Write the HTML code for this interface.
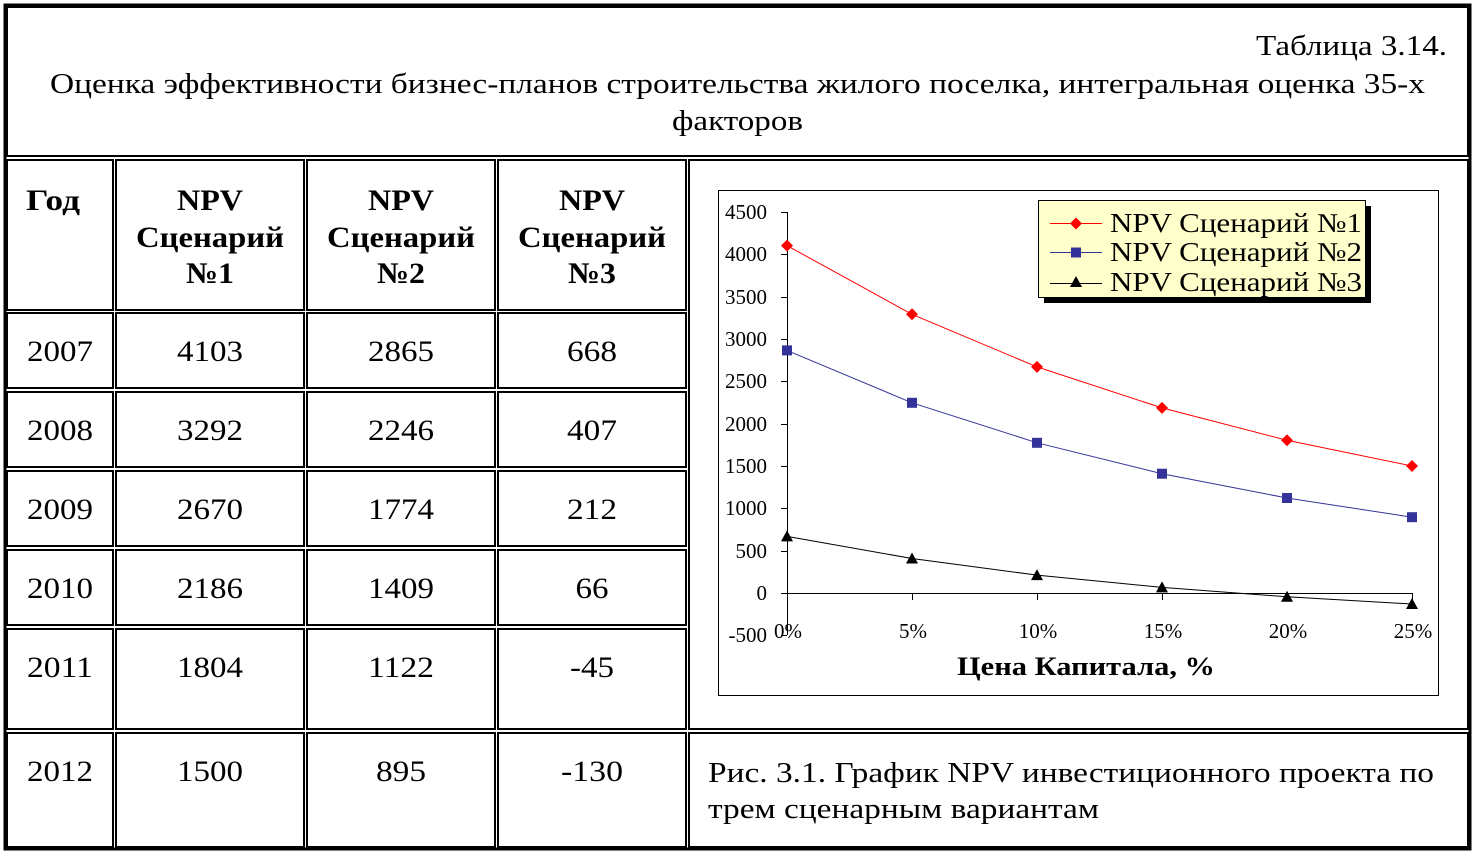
<!DOCTYPE html>
<html><head><meta charset="utf-8"><style>
html,body{margin:0;padding:0;background:#fff;}
svg{display:block;font-family:"Liberation Serif",serif;}
</style></head><body>
<svg width="1474" height="854" viewBox="0 0 1474 854" xmlns="http://www.w3.org/2000/svg">
<rect x="0" y="0" width="1474" height="854" fill="#fff"/>
<g fill="none" stroke="#000" stroke-width="2">
<rect x="7" y="7" width="1461" height="149"/>
<rect x="7" y="160" width="106" height="150"/>
<rect x="116" y="160" width="188" height="150"/>
<rect x="307" y="160" width="188" height="150"/>
<rect x="498" y="160" width="188" height="150"/>
<rect x="689" y="160" width="779" height="569"/>
<g>
<rect x="7" y="313" width="106" height="75"/><rect x="116" y="313" width="188" height="75"/><rect x="307" y="313" width="188" height="75"/><rect x="498" y="313" width="188" height="75"/>
<rect x="7" y="392" width="106" height="75"/><rect x="116" y="392" width="188" height="75"/><rect x="307" y="392" width="188" height="75"/><rect x="498" y="392" width="188" height="75"/>
<rect x="7" y="471" width="106" height="75"/><rect x="116" y="471" width="188" height="75"/><rect x="307" y="471" width="188" height="75"/><rect x="498" y="471" width="188" height="75"/>
<rect x="7" y="550" width="106" height="75"/><rect x="116" y="550" width="188" height="75"/><rect x="307" y="550" width="188" height="75"/><rect x="498" y="550" width="188" height="75"/>
<rect x="7" y="629" width="106" height="100"/><rect x="116" y="629" width="188" height="100"/><rect x="307" y="629" width="188" height="100"/><rect x="498" y="629" width="188" height="100"/>
<rect x="7" y="733" width="106" height="114"/><rect x="116" y="733" width="188" height="114"/><rect x="307" y="733" width="188" height="114"/><rect x="498" y="733" width="188" height="114"/>
<rect x="689" y="733" width="779" height="114"/>
</g>
</g>
<rect x="5" y="5" width="1465" height="844" fill="none" stroke="#000" stroke-width="3"/>
<g font-size="29" fill="#000">
<text x="1256" y="55" textLength="191" lengthAdjust="spacingAndGlyphs">Таблица 3.14.</text>
<text x="50" y="93" textLength="1375" lengthAdjust="spacingAndGlyphs">Оценка эффективности бизнес-планов строительства жилого поселка, интегральная оценка 35-х</text>
<text x="672" y="130" textLength="131" lengthAdjust="spacingAndGlyphs">факторов</text>
</g>
<g font-size="30" font-weight="bold">
<text x="26" y="210" textLength="54" lengthAdjust="spacingAndGlyphs">Год</text>
<text x="177" y="210" textLength="66" lengthAdjust="spacingAndGlyphs">NPV</text><text x="136" y="247" textLength="148" lengthAdjust="spacingAndGlyphs">Сценарий</text><text x="186" y="283" textLength="48" lengthAdjust="spacingAndGlyphs">№1</text>
<text x="368" y="210" textLength="66" lengthAdjust="spacingAndGlyphs">NPV</text><text x="327" y="247" textLength="148" lengthAdjust="spacingAndGlyphs">Сценарий</text><text x="377" y="283" textLength="48" lengthAdjust="spacingAndGlyphs">№2</text>
<text x="559" y="210" textLength="66" lengthAdjust="spacingAndGlyphs">NPV</text><text x="518" y="247" textLength="148" lengthAdjust="spacingAndGlyphs">Сценарий</text><text x="568" y="283" textLength="48" lengthAdjust="spacingAndGlyphs">№3</text>
</g>
<g font-size="30" text-anchor="middle">
<text x="60" y="361" textLength="66" lengthAdjust="spacingAndGlyphs">2007</text><text x="210" y="361" textLength="66" lengthAdjust="spacingAndGlyphs">4103</text><text x="401" y="361" textLength="66" lengthAdjust="spacingAndGlyphs">2865</text><text x="592" y="361" textLength="50" lengthAdjust="spacingAndGlyphs">668</text>
<text x="60" y="440" textLength="66" lengthAdjust="spacingAndGlyphs">2008</text><text x="210" y="440" textLength="66" lengthAdjust="spacingAndGlyphs">3292</text><text x="401" y="440" textLength="66" lengthAdjust="spacingAndGlyphs">2246</text><text x="592" y="440" textLength="50" lengthAdjust="spacingAndGlyphs">407</text>
<text x="60" y="519" textLength="66" lengthAdjust="spacingAndGlyphs">2009</text><text x="210" y="519" textLength="66" lengthAdjust="spacingAndGlyphs">2670</text><text x="401" y="519" textLength="66" lengthAdjust="spacingAndGlyphs">1774</text><text x="592" y="519" textLength="50" lengthAdjust="spacingAndGlyphs">212</text>
<text x="60" y="598" textLength="66" lengthAdjust="spacingAndGlyphs">2010</text><text x="210" y="598" textLength="66" lengthAdjust="spacingAndGlyphs">2186</text><text x="401" y="598" textLength="66" lengthAdjust="spacingAndGlyphs">1409</text><text x="592" y="598" textLength="33" lengthAdjust="spacingAndGlyphs">66</text>
<text x="60" y="677" textLength="66" lengthAdjust="spacingAndGlyphs">2011</text><text x="210" y="677" textLength="66" lengthAdjust="spacingAndGlyphs">1804</text><text x="401" y="677" textLength="66" lengthAdjust="spacingAndGlyphs">1122</text><text x="592" y="677" textLength="44" lengthAdjust="spacingAndGlyphs">-45</text>
<text x="60" y="781" textLength="66" lengthAdjust="spacingAndGlyphs">2012</text><text x="210" y="781" textLength="66" lengthAdjust="spacingAndGlyphs">1500</text><text x="401" y="781" textLength="50" lengthAdjust="spacingAndGlyphs">895</text><text x="592" y="781" textLength="62" lengthAdjust="spacingAndGlyphs">-130</text>
</g>
<g font-size="28">
<text x="708" y="782" textLength="726" lengthAdjust="spacingAndGlyphs">Рис. 3.1. График NPV инвестиционного проекта по</text>
<text x="708" y="818" textLength="391" lengthAdjust="spacingAndGlyphs">трем сценарным вариантам</text>
</g>
<rect x="718.5" y="190.5" width="720" height="505" fill="none" stroke="#000" stroke-width="1"/>
<g stroke="#000" stroke-width="1">
<line x1="787.5" y1="212" x2="787.5" y2="635"/>
<line x1="781" y1="212.5" x2="787" y2="212.5"/><line x1="781" y1="254.5" x2="787" y2="254.5"/><line x1="781" y1="297.5" x2="787" y2="297.5"/><line x1="781" y1="339.5" x2="787" y2="339.5"/><line x1="781" y1="381.5" x2="787" y2="381.5"/><line x1="781" y1="424.5" x2="787" y2="424.5"/><line x1="781" y1="466.5" x2="787" y2="466.5"/><line x1="781" y1="508.5" x2="787" y2="508.5"/><line x1="781" y1="551.5" x2="787" y2="551.5"/><line x1="781" y1="593.5" x2="787" y2="593.5"/><line x1="781" y1="635.5" x2="787" y2="635.5"/>
<line x1="787" y1="593.5" x2="1412" y2="593.5"/>
<line x1="912.5" y1="593" x2="912.5" y2="600"/><line x1="1037.5" y1="593" x2="1037.5" y2="600"/><line x1="1162.5" y1="593" x2="1162.5" y2="600"/><line x1="1287.5" y1="593" x2="1287.5" y2="600"/><line x1="1412.5" y1="593" x2="1412.5" y2="600"/>
</g>
<g font-size="21" text-anchor="end">
<text x="767" y="219">4500</text><text x="767" y="261">4000</text><text x="767" y="304">3500</text><text x="767" y="346">3000</text><text x="767" y="388">2500</text><text x="767" y="431">2000</text><text x="767" y="473">1500</text><text x="767" y="515">1000</text><text x="767" y="558">500</text><text x="767" y="600">0</text><text x="767" y="642">-500</text>
</g>
<g font-size="21" text-anchor="middle">
<text x="788" y="638">0%</text><text x="913" y="638">5%</text><text x="1038" y="638">10%</text><text x="1163" y="638">15%</text><text x="1288" y="638">20%</text><text x="1413" y="638">25%</text>
</g>
<text x="957" y="675" font-size="26" font-weight="bold" textLength="258" lengthAdjust="spacingAndGlyphs">Цена Капитала, %</text>
<polyline fill="none" stroke="#f00" stroke-width="1" points="787,245.6 912,314.3 1037,366.9 1162,407.9 1287,440.3 1412,466"/>
<polyline fill="none" stroke="#333399" stroke-width="1" points="787,350.4 912,402.8 1037,442.8 1162,473.7 1287,498 1412,517.2"/>
<polyline fill="none" stroke="#000" stroke-width="1" points="787,536.4 912,558.5 1037,575.1 1162,587.4 1287,596.8 1412,604"/>
<g fill="#f00">
<polygon points="787,239.6 793,245.6 787,251.6 781,245.6"/><polygon points="912,308.3 918,314.3 912,320.3 906,314.3"/><polygon points="1037,360.9 1043,366.9 1037,372.9 1031,366.9"/><polygon points="1162,401.9 1168,407.9 1162,413.9 1156,407.9"/><polygon points="1287,434.3 1293,440.3 1287,446.3 1281,440.3"/><polygon points="1412,460 1418,466 1412,472 1406,466"/>
</g>
<g fill="#333399">
<rect x="782" y="345.4" width="10" height="10"/><rect x="907" y="397.8" width="10" height="10"/><rect x="1032" y="437.8" width="10" height="10"/><rect x="1157" y="468.7" width="10" height="10"/><rect x="1282" y="493" width="10" height="10"/><rect x="1407" y="512.2" width="10" height="10"/>
</g>
<g fill="#000">
<polygon points="787,530.4 793,541.4 781,541.4"/><polygon points="912,552.5 918,563.5 906,563.5"/><polygon points="1037,569.1 1043,580.1 1031,580.1"/><polygon points="1162,581.4 1168,592.4 1156,592.4"/><polygon points="1287,590.8 1293,601.8 1281,601.8"/><polygon points="1412,598 1418,609 1406,609"/>
</g>
<rect x="1044" y="206" width="327" height="97" fill="#000"/>
<rect x="1038.5" y="200.5" width="327" height="97" fill="#ffffcc" stroke="#000" stroke-width="1"/>
<line x1="1050" y1="223.5" x2="1102" y2="223.5" stroke="#f00"/>
<polygon points="1076,217.5 1082,223.5 1076,229.5 1070,223.5" fill="#f00"/>
<line x1="1050" y1="252.5" x2="1102" y2="252.5" stroke="#333399"/>
<rect x="1071" y="247.5" width="10" height="10" fill="#333399"/>
<line x1="1050" y1="283.5" x2="1102" y2="283.5" stroke="#000"/>
<polygon points="1076,276 1082,287 1070,287" fill="#000"/>
<g font-size="27">
<text x="1110" y="232" textLength="252" lengthAdjust="spacingAndGlyphs">NPV Сценарий №1</text>
<text x="1110" y="261" textLength="252" lengthAdjust="spacingAndGlyphs">NPV Сценарий №2</text>
<text x="1110" y="291" textLength="252" lengthAdjust="spacingAndGlyphs">NPV Сценарий №3</text>
</g>
</svg>
</body></html>
